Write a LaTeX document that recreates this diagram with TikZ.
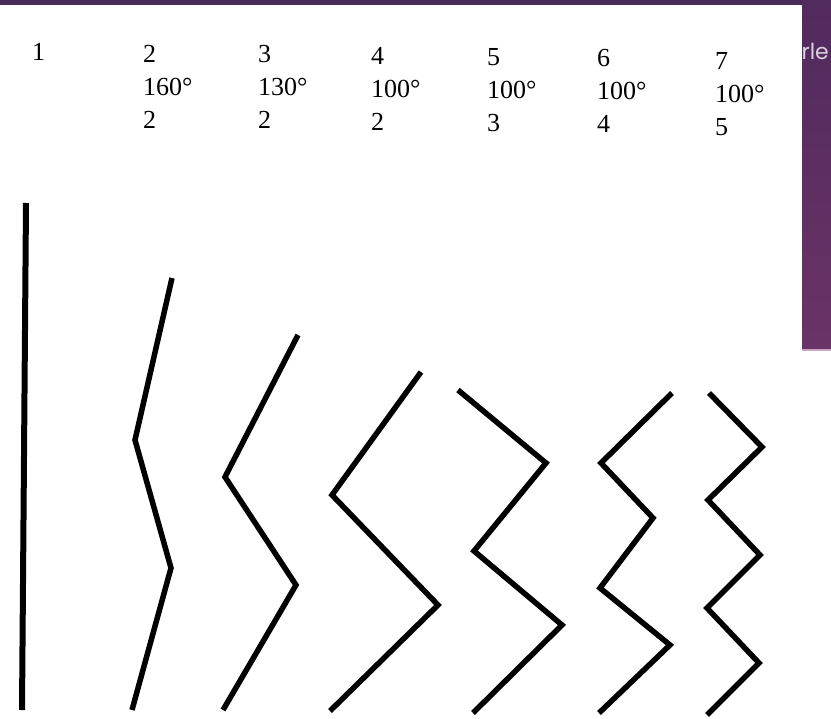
\documentclass[tikz,border=0pt]{standalone}
\usepackage{fontspec}
\setmainfont{Liberation Serif}
\newfontfamily\slidefont{Poppins}
\usetikzlibrary{positioning}
\definecolor{slidebar}{HTML}{4A2858}
\definecolor{slidetop}{HTML}{512A5E}
\definecolor{slidebot}{HTML}{6A3366}
\definecolor{slideedge}{HTML}{C9A6C6}
\definecolor{slidetext}{HTML}{D9D0DE}

\begin{document}
\begin{tikzpicture}[
    x=1pt, y=-1pt,
    every node/.style={font=\fontsize{26}{30}\selectfont, inner sep=0pt},
    lbl/.style={anchor=base west},
    chain/.style={line width=5.5pt, black, miter limit=10}
]
\useasboundingbox (0,0) rectangle (831,719);

% slide background
\fill[slidebar] (0,0) rectangle (831,5);
\shade[top color=slidetop, bottom color=slidebot] (802,0) rectangle (831,350);
\draw[slideedge, line width=1.5pt] (802,350) -- (831,350);
\node[font=\slidefont\fontsize{22}{24}\selectfont, text=slidetext, anchor=base east] (title) at (829,60) {rle};

% column headings
\node[lbl] (num1) at (32,61) {1};
\foreach \c/\x/\y/\ang/\k in {2/143/63/160/2, 3/258/63/130/2, 4/371/65/100/2,
                               5/487/66/100/3, 6/597/67/100/4, 7/715/70/100/5} {
    \node[lbl] (num\c) at (\x,\y) {\c};
    \node[lbl] (ang\c) at (\x,\y+33) {\ang°};
    \node[lbl] (bend\c) at (\x,\y+66) {\k};
}

% chains
\draw[chain, line width=6pt] (26,203) -- (22,710);
\draw[chain] (172,278) -- (135,440) -- (171,568) -- (132,710);
\draw[chain] (298,335) -- (225,477) -- (296,585) -- (223,710);
\draw[chain] (421,372) -- (332,495) -- (438,605) -- (330,711);
\draw[chain] (458,390) -- (546,463) -- (474,551) -- (562,625) -- (473,713);
\draw[chain] (672,393) -- (601,463) -- (653,518) -- (600,588) -- (670,645) -- (599,713);
\draw[chain] (709,393) -- (762,447) -- (708,500) -- (760,555) -- (707,608) -- (759,663) -- (707,715);

\end{tikzpicture}
\end{document}
